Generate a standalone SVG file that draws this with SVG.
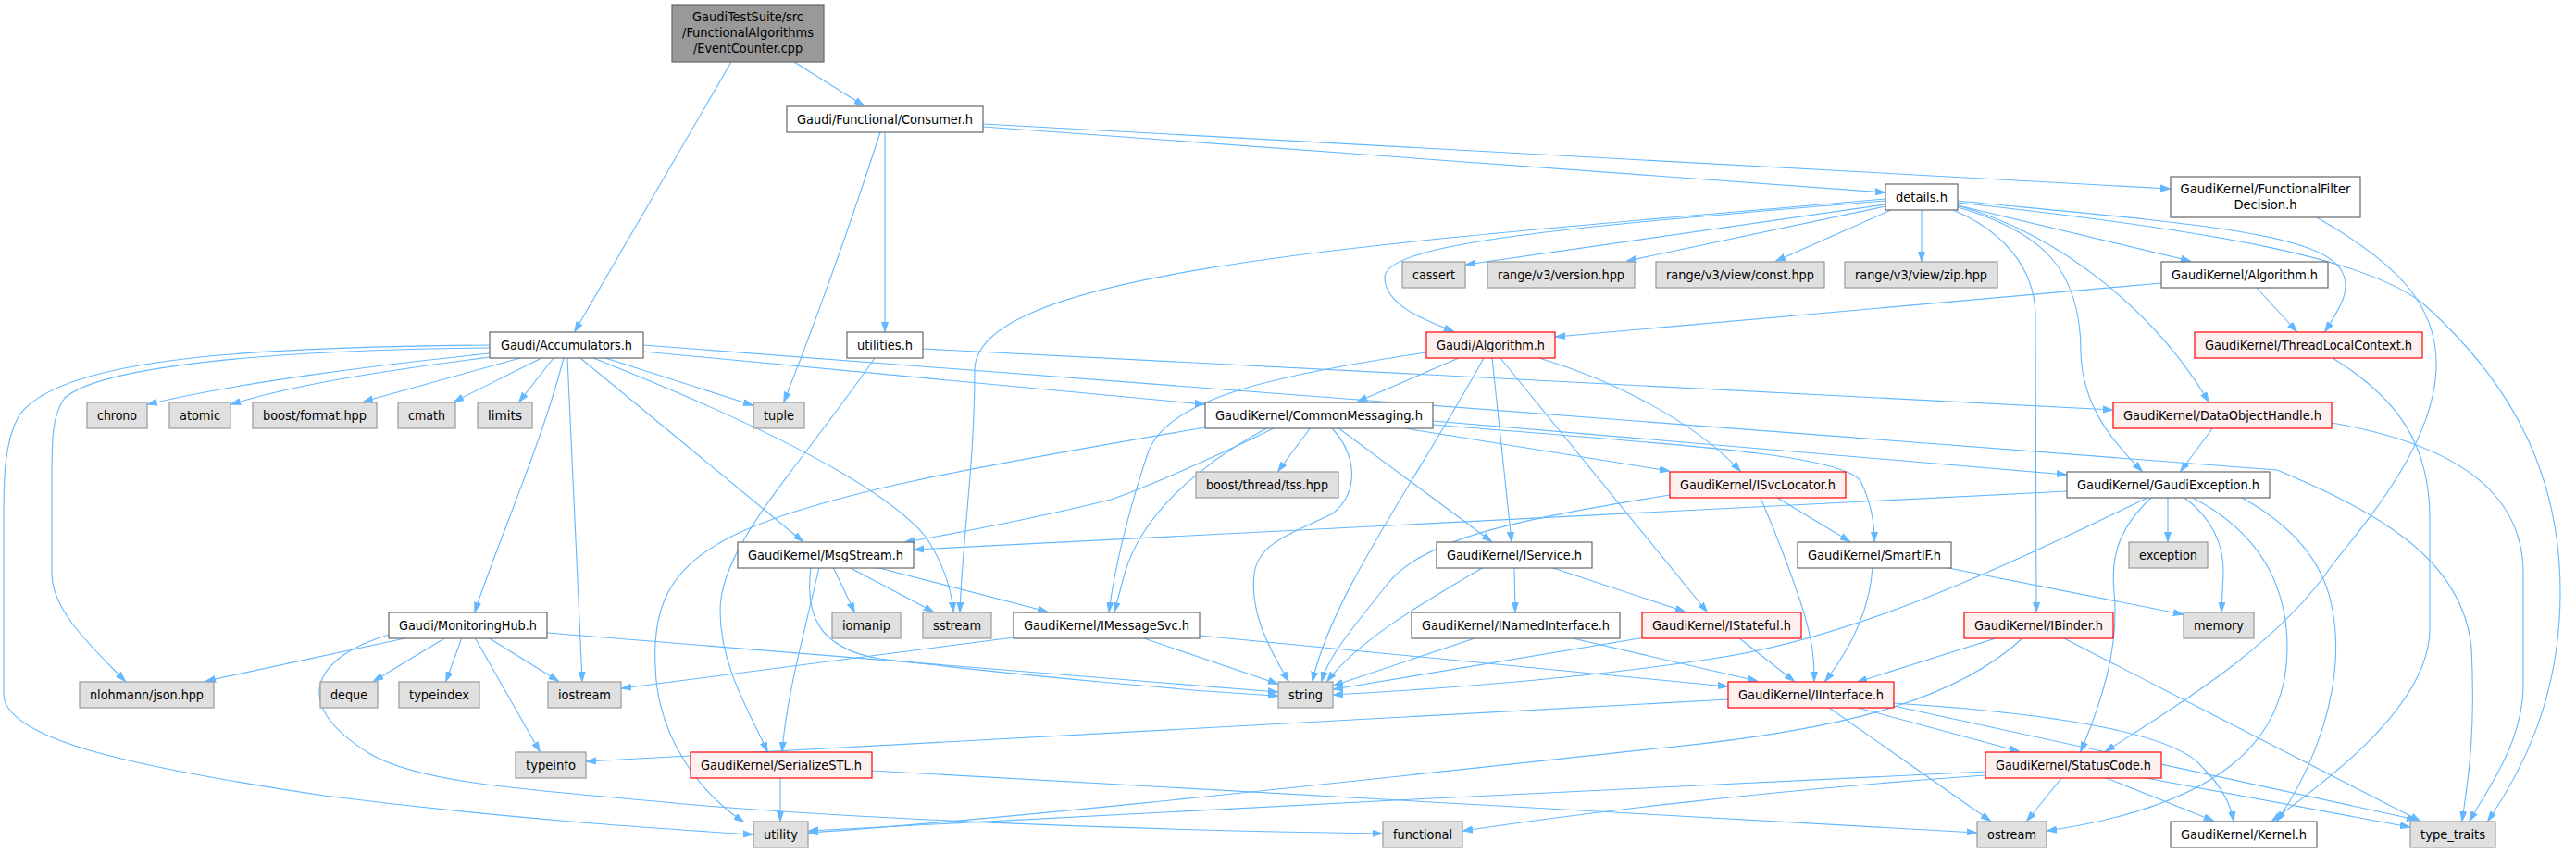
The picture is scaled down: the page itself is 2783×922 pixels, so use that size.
<svg xmlns="http://www.w3.org/2000/svg" width="2783" height="922" viewBox="0 0 2783 922">
<style>
.n rect{fill:#fff;stroke:#666;stroke-width:1.2}
.e rect{fill:#e0e0e0;stroke:#999;stroke-width:1.2}
.r rect{fill:#fff0f0;stroke:#f00;stroke-width:1.2}
.root rect{fill:#999;stroke:#666;stroke-width:1.2}
text{font-family:"DejaVu Sans Condensed","DejaVu Sans",sans-serif;font-stretch:condensed;font-size:13.3px;text-anchor:middle;fill:#000}
#edges path{fill:none;stroke:#63B8FF;stroke-width:1.1;marker-end:url(#a)}
</style>
<defs>
<marker id="a" markerWidth="11" markerHeight="8" refX="10" refY="4" orient="auto" markerUnits="userSpaceOnUse"><path d="M0,0.5 L10.5,4 L0,7.5 z" fill="#63B8FF" stroke="#63B8FF"/></marker>
</defs>
<rect width="2783" height="922" fill="#fff"/>
<g id="edges">
<path d="M790,67 L621,358"/>
<path d="M858,67 L933,114"/>
<path d="M951,143 Q900,300 847,434"/>
<path d="M956,143 L956,358"/>
<path d="M1062,137 L2036,208"/>
<path d="M1062,134 L2344,204"/>
<path d="M2037,221 L1584,286"/>
<path d="M2037,223 L1758,282"/>
<path d="M2043,227 L1919,282"/>
<path d="M2076,227 L2076,282"/>
<path d="M2037,217 C1700,245 1496,262 1496,300 C1496,328 1535,345 1570,358"/>
<path d="M2037,215 C1500,262 1053,290 1053,400 C1053,500 1040,580 1037,661"/>
<path d="M2115,222 L2366,282"/>
<path d="M2110,227 C2165,250 2198,290 2199,340 L2200,661"/>
<path d="M2115,224 C2205,250 2248,290 2248,380 C2249,440 2285,480 2314,509"/>
<path d="M2115,222 C2230,255 2330,340 2386,434"/>
<path d="M2115,217 C2350,240 2500,250 2528,290 C2542,310 2530,330 2512,358"/>
<path d="M2115,219 C2400,250 2560,280 2620,330 C2720,420 2766,520 2766,640 C2766,760 2720,840 2688,887"/>
<path d="M2503,235 C2590,285 2635,330 2632,400 C2628,480 2560,560 2520,610 C2460,700 2340,770 2275,812"/>
<path d="M2335,306 L1681,364"/>
<path d="M2438,311 L2481,358"/>
<path d="M997,377 L2282,443"/>
<path d="M945,387 C860,510 778,590 778,660 C778,720 810,770 829,812"/>
<path d="M1576,387 L1467,434"/>
<path d="M1603,387 C1530,520 1440,640 1418,736"/>
<path d="M1612,387 L1633,585"/>
<path d="M1621,387 L1844,661"/>
<path d="M1663,387 C1740,410 1830,455 1880,509"/>
<path d="M1541,381 C1380,405 1260,430 1240,490 C1220,550 1205,610 1198,661"/>
<path d="M1302,462 C1050,505 880,535 790,580 C720,615 705,660 708,720 C710,800 760,860 803,888"/>
<path d="M1378,462 C1300,500 1230,530 1200,540 C1120,560 1040,575 978,586"/>
<path d="M1370,462 C1290,505 1232,560 1215,620 L1204,661"/>
<path d="M1416,462 L1381,509"/>
<path d="M1438,462 C1465,490 1470,530 1440,555 C1400,575 1360,585 1355,620 C1350,660 1370,700 1392,736"/>
<path d="M1445,462 L1611,585"/>
<path d="M1512,462 L1803,509"/>
<path d="M1548,455 L2232,513"/>
<path d="M1548,459 C1800,480 1990,490 2010,520 C2020,540 2025,560 2025,585"/>
<path d="M1804,535 C1650,560 1540,580 1500,630 C1460,680 1435,710 1428,736"/>
<path d="M1920,538 L1998,585"/>
<path d="M1902,538 C1920,580 1935,620 1945,650 C1958,690 1960,710 1960,736"/>
<path d="M2233,531 L988,594"/>
<path d="M2320,538 C2150,620 2000,690 1850,712 C1700,735 1550,745 1441,751"/>
<path d="M2342,538 L2342,585"/>
<path d="M2324,538 C2290,570 2280,600 2284,640 C2290,700 2270,760 2248,812"/>
<path d="M2360,538 C2390,560 2403,590 2402,620 L2400,661"/>
<path d="M2369,538 C2430,570 2471,620 2471,700 C2471,800 2400,870 2212,898"/>
<path d="M2422,538 C2480,570 2512,610 2520,660 C2535,740 2500,830 2460,887"/>
<path d="M695,373 L2460,508 C2560,550 2660,600 2670,700 C2675,800 2665,850 2660,887"/>
<path d="M2391,462 L2356,509"/>
<path d="M2519,457 C2650,480 2726,530 2726,620 L2726,740 C2726,800 2690,850 2668,887"/>
<path d="M2520,387 C2590,430 2625,480 2625,560 L2625,680 C2625,760 2520,840 2455,887"/>
<path d="M885,613 C870,680 850,750 845,812"/>
<path d="M876,613 C870,660 880,700 950,712 C1100,730 1300,748 1380,752"/>
<path d="M900,613 L923,661"/>
<path d="M917,613 L1008,661"/>
<path d="M946,613 L1131,661"/>
<path d="M1233,689 L1380,739"/>
<path d="M1296,687 L1866,742"/>
<path d="M1095,689 L672,744"/>
<path d="M1603,613 C1540,650 1470,690 1434,736"/>
<path d="M1636,613 L1637,661"/>
<path d="M1675,613 L1820,661"/>
<path d="M1596,689 L1441,741"/>
<path d="M1695,689 L1898,736"/>
<path d="M1777,689 L1441,745"/>
<path d="M1878,689 L1938,736"/>
<path d="M2023,613 C2020,660 2000,700 1972,736"/>
<path d="M2100,613 L2358,664"/>
<path d="M2159,689 L2007,737"/>
<path d="M2186,689 C2110,760 1980,790 1800,808 C1500,840 1100,885 874,900"/>
<path d="M2228,689 L2614,887"/>
<path d="M2145,834 C1800,850 1200,880 874,898"/>
<path d="M2145,838 C1900,855 1700,880 1581,898"/>
<path d="M2228,840 L2190,887"/>
<path d="M2273,840 L2391,887"/>
<path d="M2313,840 L2603,894"/>
<path d="M942,833 C1400,860 1800,880 2135,900"/>
<path d="M843,840 L843,887"/>
<path d="M420,686 C340,710 310,760 400,815 C460,850 600,855 750,870 C1000,890 1300,898 1493,901"/>
<path d="M442,689 L223,736"/>
<path d="M482,689 L404,736"/>
<path d="M499,689 L482,736"/>
<path d="M513,689 L583,812"/>
<path d="M527,689 L603,736"/>
<path d="M591,684 L1380,748"/>
<path d="M1867,756 L634,823"/>
<path d="M1976,765 L2150,887"/>
<path d="M2007,765 L2181,812"/>
<path d="M2046,760 C2200,770 2350,790 2380,830 C2400,850 2410,870 2413,887"/>
<path d="M2046,763 L2610,886"/>
<path d="M529,373 C250,375 60,390 20,450 C4,480 4,520 4,560 L4,750 C4,800 150,830 350,860 C550,885 700,895 813,902"/>
<path d="M529,376 C300,378 110,395 70,430 C55,450 56,480 56,530 L56,620 C56,660 100,700 135,736"/>
<path d="M529,382 C400,395 250,415 160,437"/>
<path d="M529,386 C420,400 320,415 250,437"/>
<path d="M562,387 L393,434"/>
<path d="M585,387 L491,434"/>
<path d="M598,387 L561,434"/>
<path d="M609,387 C585,480 540,580 513,661"/>
<path d="M613,387 L629,736"/>
<path d="M627,387 L867,585"/>
<path d="M641,387 C800,450 950,520 1000,580 C1020,610 1028,640 1030,661"/>
<path d="M654,387 L813,438"/>
<path d="M695,380 L1301,437"/>
</g>
<g id="root" class="root"><rect x="726" y="5" width="164" height="62"/><text x="808" y="22.5" textLength="120" lengthAdjust="spacingAndGlyphs">GaudiTestSuite/src</text><text x="808" y="39.5" textLength="142" lengthAdjust="spacingAndGlyphs">/FunctionalAlgorithms</text><text x="808" y="56.5" textLength="118" lengthAdjust="spacingAndGlyphs">/EventCounter.cpp</text></g>
<g id="consumer" class="n"><rect x="850" y="115" width="212" height="28"/><text x="956" y="133.5" textLength="190" lengthAdjust="spacingAndGlyphs">Gaudi/Functional/Consumer.h</text></g>
<g id="details" class="n"><rect x="2037" y="199" width="78" height="28"/><text x="2076" y="217.5" textLength="56" lengthAdjust="spacingAndGlyphs">details.h</text></g>
<g id="ffd" class="n"><rect x="2345" y="191" width="205" height="44"/><text x="2447.5" y="208.5" textLength="184" lengthAdjust="spacingAndGlyphs">GaudiKernel/FunctionalFilter</text><text x="2447.5" y="225.5" textLength="68" lengthAdjust="spacingAndGlyphs">Decision.h</text></g>
<g id="cassert" class="e"><rect x="1515" y="283" width="68" height="28"/><text x="1549" y="301.5" textLength="46" lengthAdjust="spacingAndGlyphs">cassert</text></g>
<g id="version" class="e"><rect x="1607" y="283" width="159" height="28"/><text x="1686.5" y="301.5" textLength="137" lengthAdjust="spacingAndGlyphs">range/v3/version.hpp</text></g>
<g id="const" class="e"><rect x="1789" y="283" width="182" height="28"/><text x="1880" y="301.5" textLength="160" lengthAdjust="spacingAndGlyphs">range/v3/view/const.hpp</text></g>
<g id="zip" class="e"><rect x="1993" y="283" width="165" height="28"/><text x="2075.5" y="301.5" textLength="143" lengthAdjust="spacingAndGlyphs">range/v3/view/zip.hpp</text></g>
<g id="gkalg" class="n"><rect x="2335" y="283" width="180" height="28"/><text x="2425" y="301.5" textLength="158" lengthAdjust="spacingAndGlyphs">GaudiKernel/Algorithm.h</text></g>
<g id="accum" class="n"><rect x="529" y="359" width="166" height="28"/><text x="612" y="377.5" textLength="142" lengthAdjust="spacingAndGlyphs">Gaudi/Accumulators.h</text></g>
<g id="utilities" class="n"><rect x="915" y="359" width="82" height="28"/><text x="956" y="377.5" textLength="60" lengthAdjust="spacingAndGlyphs">utilities.h</text></g>
<g id="galg" class="r"><rect x="1541" y="359" width="139" height="28"/><text x="1610.5" y="377.5" textLength="117" lengthAdjust="spacingAndGlyphs">Gaudi/Algorithm.h</text></g>
<g id="tlc" class="r"><rect x="2371" y="359" width="246" height="28"/><text x="2494" y="377.5" textLength="224" lengthAdjust="spacingAndGlyphs">GaudiKernel/ThreadLocalContext.h</text></g>
<g id="chrono" class="e"><rect x="94" y="435" width="65" height="28"/><text x="126.5" y="453.5" textLength="43" lengthAdjust="spacingAndGlyphs">chrono</text></g>
<g id="atomic" class="e"><rect x="183" y="435" width="66" height="28"/><text x="216" y="453.5" textLength="44" lengthAdjust="spacingAndGlyphs">atomic</text></g>
<g id="bformat" class="e"><rect x="273" y="435" width="134" height="28"/><text x="340" y="453.5" textLength="112" lengthAdjust="spacingAndGlyphs">boost/format.hpp</text></g>
<g id="cmath" class="e"><rect x="430" y="435" width="62" height="28"/><text x="461" y="453.5" textLength="40" lengthAdjust="spacingAndGlyphs">cmath</text></g>
<g id="limits" class="e"><rect x="516" y="435" width="59" height="28"/><text x="545.5" y="453.5" textLength="37" lengthAdjust="spacingAndGlyphs">limits</text></g>
<g id="tuple" class="e"><rect x="814" y="435" width="55" height="28"/><text x="841.5" y="453.5" textLength="33" lengthAdjust="spacingAndGlyphs">tuple</text></g>
<g id="commsg" class="n"><rect x="1302" y="435" width="246" height="28"/><text x="1425" y="453.5" textLength="224" lengthAdjust="spacingAndGlyphs">GaudiKernel/CommonMessaging.h</text></g>
<g id="doh" class="r"><rect x="2283" y="435" width="236" height="28"/><text x="2401" y="453.5" textLength="214" lengthAdjust="spacingAndGlyphs">GaudiKernel/DataObjectHandle.h</text></g>
<g id="tss" class="e"><rect x="1292" y="510" width="154" height="28"/><text x="1369" y="528.5" textLength="132" lengthAdjust="spacingAndGlyphs">boost/thread/tss.hpp</text></g>
<g id="isvcloc" class="r"><rect x="1804" y="510" width="190" height="28"/><text x="1899" y="528.5" textLength="168" lengthAdjust="spacingAndGlyphs">GaudiKernel/ISvcLocator.h</text></g>
<g id="gexc" class="n"><rect x="2233" y="510" width="219" height="28"/><text x="2342.5" y="528.5" textLength="197" lengthAdjust="spacingAndGlyphs">GaudiKernel/GaudiException.h</text></g>
<g id="msgstream" class="n"><rect x="797" y="586" width="190" height="28"/><text x="892" y="604.5" textLength="168" lengthAdjust="spacingAndGlyphs">GaudiKernel/MsgStream.h</text></g>
<g id="iservice" class="n"><rect x="1552" y="586" width="168" height="28"/><text x="1636" y="604.5" textLength="146" lengthAdjust="spacingAndGlyphs">GaudiKernel/IService.h</text></g>
<g id="smartif" class="n"><rect x="1942" y="586" width="166" height="28"/><text x="2025" y="604.5" textLength="144" lengthAdjust="spacingAndGlyphs">GaudiKernel/SmartIF.h</text></g>
<g id="exception" class="e"><rect x="2300" y="586" width="85" height="28"/><text x="2342.5" y="604.5" textLength="63" lengthAdjust="spacingAndGlyphs">exception</text></g>
<g id="monhub" class="n"><rect x="420" y="662" width="171" height="28"/><text x="505.5" y="680.5" textLength="149" lengthAdjust="spacingAndGlyphs">Gaudi/MonitoringHub.h</text></g>
<g id="iomanip" class="e"><rect x="899" y="662" width="74" height="28"/><text x="936" y="680.5" textLength="52" lengthAdjust="spacingAndGlyphs">iomanip</text></g>
<g id="sstream" class="e"><rect x="997" y="662" width="74" height="28"/><text x="1034" y="680.5" textLength="52" lengthAdjust="spacingAndGlyphs">sstream</text></g>
<g id="imsgsvc" class="n"><rect x="1095" y="662" width="201" height="28"/><text x="1195.5" y="680.5" textLength="179" lengthAdjust="spacingAndGlyphs">GaudiKernel/IMessageSvc.h</text></g>
<g id="inamed" class="n"><rect x="1525" y="662" width="225" height="28"/><text x="1637.5" y="680.5" textLength="203" lengthAdjust="spacingAndGlyphs">GaudiKernel/INamedInterface.h</text></g>
<g id="istateful" class="r"><rect x="1774" y="662" width="172" height="28"/><text x="1860" y="680.5" textLength="150" lengthAdjust="spacingAndGlyphs">GaudiKernel/IStateful.h</text></g>
<g id="ibinder" class="r"><rect x="2122" y="662" width="161" height="28"/><text x="2202.5" y="680.5" textLength="139" lengthAdjust="spacingAndGlyphs">GaudiKernel/IBinder.h</text></g>
<g id="memory" class="e"><rect x="2359" y="662" width="76" height="28"/><text x="2397" y="680.5" textLength="54" lengthAdjust="spacingAndGlyphs">memory</text></g>
<g id="json" class="e"><rect x="86" y="737" width="145" height="28"/><text x="158.5" y="755.5" textLength="123" lengthAdjust="spacingAndGlyphs">nlohmann/json.hpp</text></g>
<g id="deque" class="e"><rect x="346" y="737" width="62" height="28"/><text x="377" y="755.5" textLength="40" lengthAdjust="spacingAndGlyphs">deque</text></g>
<g id="typeindex" class="e"><rect x="431" y="737" width="87" height="28"/><text x="474.5" y="755.5" textLength="65" lengthAdjust="spacingAndGlyphs">typeindex</text></g>
<g id="iostream" class="e"><rect x="592" y="737" width="79" height="28"/><text x="631.5" y="755.5" textLength="57" lengthAdjust="spacingAndGlyphs">iostream</text></g>
<g id="string" class="e"><rect x="1381" y="737" width="59" height="28"/><text x="1410.5" y="755.5" textLength="37" lengthAdjust="spacingAndGlyphs">string</text></g>
<g id="iinterface" class="r"><rect x="1867" y="737" width="179" height="28"/><text x="1956.5" y="755.5" textLength="157" lengthAdjust="spacingAndGlyphs">GaudiKernel/IInterface.h</text></g>
<g id="typeinfo" class="e"><rect x="557" y="813" width="76" height="28"/><text x="595" y="831.5" textLength="54" lengthAdjust="spacingAndGlyphs">typeinfo</text></g>
<g id="serialize" class="r"><rect x="746" y="813" width="196" height="28"/><text x="844" y="831.5" textLength="174" lengthAdjust="spacingAndGlyphs">GaudiKernel/SerializeSTL.h</text></g>
<g id="statuscode" class="r"><rect x="2145" y="813" width="190" height="28"/><text x="2240" y="831.5" textLength="168" lengthAdjust="spacingAndGlyphs">GaudiKernel/StatusCode.h</text></g>
<g id="utility" class="e"><rect x="814" y="888" width="59" height="28"/><text x="843.5" y="906.5" textLength="37" lengthAdjust="spacingAndGlyphs">utility</text></g>
<g id="functional" class="e"><rect x="1494" y="888" width="86" height="28"/><text x="1537" y="906.5" textLength="64" lengthAdjust="spacingAndGlyphs">functional</text></g>
<g id="ostream" class="e"><rect x="2136" y="888" width="75" height="28"/><text x="2173.5" y="906.5" textLength="53" lengthAdjust="spacingAndGlyphs">ostream</text></g>
<g id="kernel" class="n"><rect x="2345" y="888" width="158" height="28"/><text x="2424" y="906.5" textLength="136" lengthAdjust="spacingAndGlyphs">GaudiKernel/Kernel.h</text></g>
<g id="typetraits" class="e"><rect x="2604" y="888" width="92" height="28"/><text x="2650" y="906.5" textLength="70" lengthAdjust="spacingAndGlyphs">type_traits</text></g>
</svg>
